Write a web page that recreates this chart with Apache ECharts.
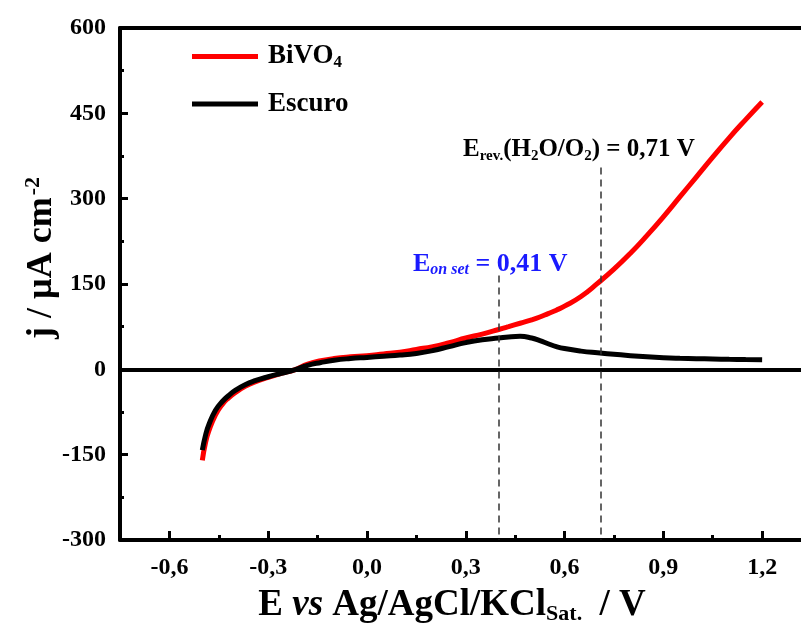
<!DOCTYPE html>
<html>
<head>
<meta charset="utf-8">
<script src="https://cdn.jsdelivr.net/npm/echarts@6/dist/echarts.min.js"></script>
<style>
html,body{margin:0;padding:0;background:#fff;}
#chart{width:801px;height:633px;}
</style>
</head>
<body>
<div id="chart"></div>
<script>
// Potential (V vs Ag/AgCl/KCl sat.)
const potential = [-0.5,-0.49,-0.48,-0.46,-0.44,-0.42,-0.40,-0.37,-0.34,-0.30,-0.26,-0.22,-0.18,-0.14,-0.10,-0.05,0,0.05,0.10,0.15,0.20,0.25,0.30,0.35,0.40,0.43,0.465,0.50,0.525,0.55,0.575,0.60,0.65,0.70,0.75,0.80,0.85,0.90,0.95,1.00,1.05,1.10,1.15,1.20];
// Current density (µA cm^-2)
const bivo4 = [-160,-128,-108,-80,-62,-50,-41,-30,-22,-14,-7,-1,9,15,19,22,24,27,30,35,40,47,55,62,70,75,81,87,92,98,104,111,128,151,176,204,235,268,303,338,373,407,439,470];
const escuro = [-142,-115,-97,-72,-57,-46,-37,-27,-20,-13,-7,-1,7,12,16,19,21,23,25,28,33,40,47,52,55,57,58,55,50.5,45,40,36.5,32,29,26.5,24,22,20.5,19.5,18.8,18.2,17.6,17.2,17];
const xTicks = [-0.6,-0.3,0.0,0.3,0.6,0.9,1.2];
const xMinorTicks = [-0.45,-0.15,0.15,0.45,0.75,1.05];
// dashed guide lines: [E, top j]
const guideLines = [[0.40,165],[0.71,355]];

const FONT = '"Liberation Serif","Times New Roman",serif';
const pair = (xs, ys) => xs.map((x,i)=>[x, ys[i]]);
const X_MIN = -0.75, X_MAX = 1.318;

const chart = echarts.init(document.getElementById('chart'), null, {renderer:'canvas'});
const option = {
  backgroundColor:'#fff',
  animation:false,
  grid:{left:120, top:28, bottom:93, right:0},
  legend:{
    data:['BiVO4','Escuro'],
    orient:'vertical', left:187, top:38,
    icon:'rect', itemWidth:66, itemHeight:5, itemGap:19,
    formatter: n => n==='BiVO4' ? '{n|BiVO}{s|4}' : '{n|Escuro}',
    textStyle:{
      rich:{
        n:{fontFamily:FONT, fontWeight:'bold', fontSize:27, color:'#000', lineHeight:30, padding:[0,0,0,5]},
        s:{fontFamily:FONT, fontWeight:'bold', fontSize:17, color:'#000', verticalAlign:'bottom', lineHeight:30, padding:[10,0,0,0]}
      }
    }
  },
  xAxis:[{
    type:'value', min:X_MIN, max:X_MAX, position:'bottom',
    axisLine:{onZero:false, lineStyle:{color:'#000', width:4}},
    axisTick:{customValues:xTicks, inside:true, length:9, lineStyle:{color:'#000', width:3}},
    axisLabel:{customValues:xTicks, margin:16, fontFamily:FONT, fontWeight:'bold', fontSize:24, color:'#000',
      formatter:v=>v.toFixed(1).replace('.',',')},
    splitLine:{show:false}
  },{
    type:'value', min:X_MIN, max:X_MAX, position:'bottom',
    axisLine:{show:false, onZero:false},
    axisTick:{customValues:xMinorTicks, inside:true, length:5, lineStyle:{color:'#000', width:3}},
    axisLabel:{show:false},
    splitLine:{show:false}
  },{
    type:'value', min:X_MIN, max:X_MAX, position:'top',
    axisLine:{show:true, onZero:false, lineStyle:{color:'#000', width:4}},
    axisTick:{show:false},
    axisLabel:{show:false},
    splitLine:{show:false}
  }],
  yAxis:{
    type:'value', min:-300, max:600, interval:150,
    axisLine:{show:true, onZero:false, lineStyle:{color:'#000', width:4}},
    axisTick:{inside:true, length:8, lineStyle:{color:'#000', width:3}},
    minorTick:{show:true, splitNumber:2, length:4, lineStyle:{color:'#000', width:3}},
    axisLabel:{margin:14, fontFamily:FONT, fontWeight:'bold', fontSize:24, color:'#000'},
    splitLine:{show:false}
  },
  series:[
    {
      name:'zero', type:'line', data:[], silent:true,
      markLine:{silent:true, symbol:'none', label:{show:false},
        lineStyle:{color:'#000', width:4, type:'solid'},
        data:[{yAxis:0}]},
      z:1
    },
    {
      name:'guides', type:'line', data:[], silent:true,
      markLine:{silent:true, symbol:'none', label:{show:false},
        lineStyle:{color:'#333', width:1.5, type:[7,5]},
        data:guideLines.map(g=>[{coord:[g[0],g[1]]},{coord:[g[0],-300]}])},
      z:1
    },
    {
      name:'BiVO4', type:'line', data:pair(potential,bivo4), showSymbol:false, smooth:0.5,
      color:'#ff0000', lineStyle:{color:'#ff0000', width:5}, z:3
    },
    {
      name:'Escuro', type:'line', data:pair(potential,escuro), showSymbol:false, smooth:0.5,
      color:'#000', lineStyle:{color:'#000', width:5}, z:4
    }
  ],
  graphic:[
    {
      type:'text', x:42, y:258, rotation:Math.PI/2,
      style:{
        text:'{a|j / µA cm}{s|-2}',
        align:'center', verticalAlign:'middle',
        rich:{
          a:{fontFamily:FONT, fontWeight:'bold', fontSize:36, fill:'#000', lineHeight:40},
          s:{fontFamily:FONT, fontWeight:'bold', fontSize:22, fill:'#000', verticalAlign:'top', lineHeight:40, padding:[0,0,14,2]}
        }
      }
    },
    {
      type:'text', x:452, y:605,
      style:{
        text:'{a|E }{i|vs}{a| Ag/AgCl/KCl}{s|Sat.}{a| / V}',
        align:'center', verticalAlign:'middle',
        rich:{
          a:{fontFamily:FONT, fontWeight:'bold', fontSize:37, fill:'#000', lineHeight:40},
          i:{fontFamily:FONT, fontWeight:'bold', fontStyle:'italic', fontSize:37, fill:'#000', lineHeight:40},
          s:{fontFamily:FONT, fontWeight:'bold', fontSize:22, fill:'#000', lineHeight:40, verticalAlign:'bottom', padding:[24,8,0,0]}
        }
      }
    },
    {
      type:'text', x:463, y:150,
      style:{
        text:'{a|E}{s|rev.}{a|(H}{s|2}{a|O/O}{s|2}{a|) = 0,71 V}',
        align:'left', verticalAlign:'middle',
        rich:{
          a:{fontFamily:FONT, fontWeight:'bold', fontSize:25, fill:'#000', lineHeight:28},
          s:{fontFamily:FONT, fontWeight:'bold', fontSize:15, fill:'#000', lineHeight:28, verticalAlign:'bottom', padding:[14,0,0,0]}
        }
      }
    },
    {
      type:'text', x:413, y:264,
      style:{
        text:'{a|E}{s|on set}{a| = 0,41 V}',
        align:'left', verticalAlign:'middle',
        rich:{
          a:{fontFamily:FONT, fontWeight:'bold', fontSize:26, fill:'#1a1aff', lineHeight:28},
          s:{fontFamily:FONT, fontWeight:'bold', fontStyle:'italic', fontSize:16, fill:'#1a1aff', lineHeight:28, verticalAlign:'bottom', padding:[14,0,0,0]}
        }
      }
    }
  ]
};
chart.setOption(option);
</script>
</body>
</html>
